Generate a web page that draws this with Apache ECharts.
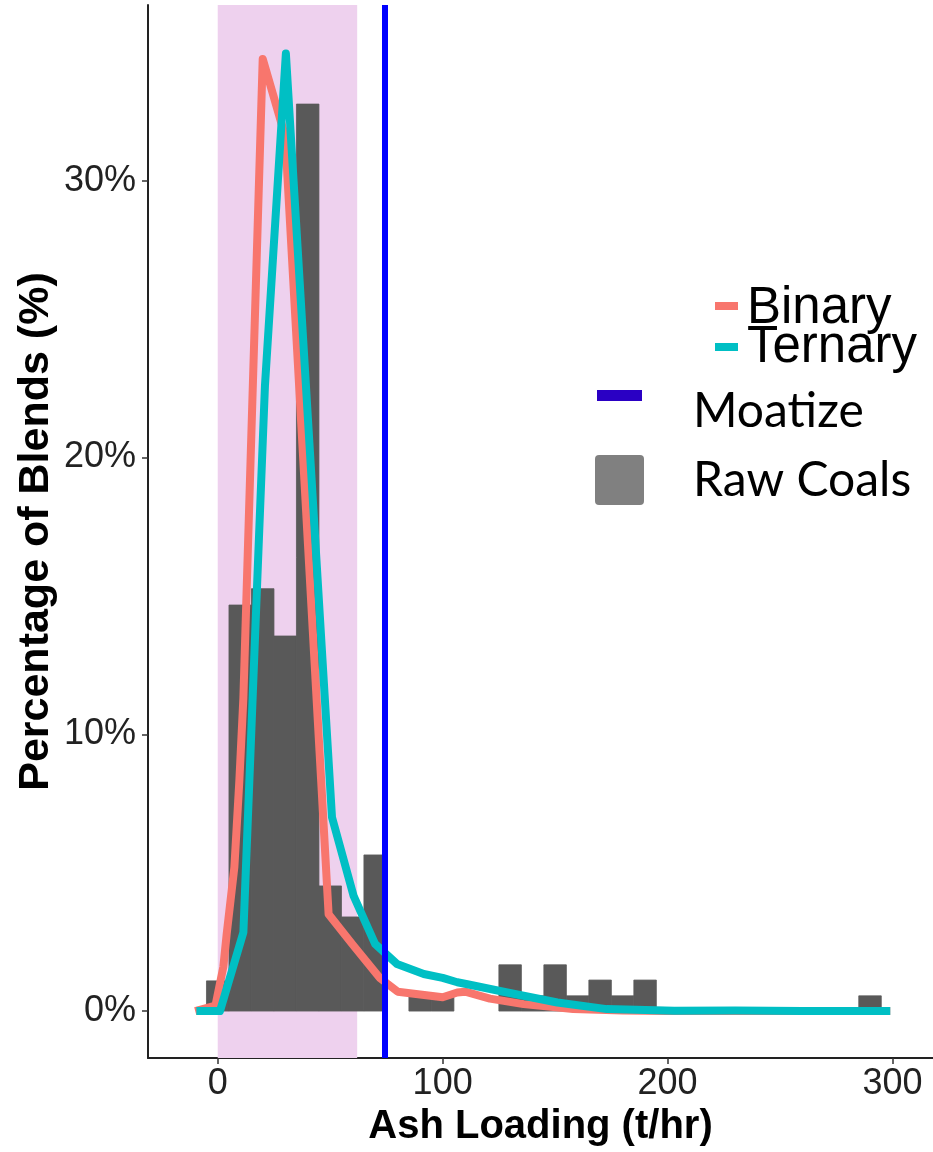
<!DOCTYPE html>
<html>
<head>
<meta charset="utf-8">
<script src="https://cdn.jsdelivr.net/npm/echarts@6/dist/echarts.min.js"></script>
<style>
  html, body { margin: 0; padding: 0; background: #fff; }
  #chart { width: 933px; height: 1152px; }
</style>
</head>
<body>
<div id="chart"></div>
<script>
// histogram of raw coals (bin centres, width 10)
const binCenters = [0, 10, 20, 30, 40, 50, 60, 70, 90, 100, 130, 140, 150, 160, 170, 180, 190, 290];
const rawCoalPct = [1.09, 14.67, 15.26, 13.55, 32.77, 4.52, 3.40, 5.64, 0.55, 0.55, 1.67, 0.55, 1.67, 0.55, 1.12, 0.55, 1.12, 0.55];
const binWidth = 10;

// frequency polygons
const binaryX = [-10, -1, 2.5, 4, 7.4, 9.6, 11.4, 20, 30, 49.3, 60, 72, 80, 90, 100, 106.5, 110, 121, 136, 158, 180, 200, 230, 260, 299];
const binaryY = [0, 0.2, 1.6, 2.8, 5.2, 8.3, 11.3, 34.4, 31.6, 3.5, 2.4, 1.2, 0.7, 0.6, 0.5, 0.67, 0.7, 0.45, 0.25, 0.07, 0.02, 0, 0, 0, 0];
const ternaryX = [-9.5, 1, 11.4, 21, 30.3, 50.8, 60.4, 70, 79.7, 91.6, 100, 106.5, 111, 128.7, 151, 173, 203, 230, 260, 299];
const ternaryY = [0, 0, 2.84, 22.6, 34.6, 7.0, 4.16, 2.42, 1.70, 1.34, 1.2, 1.04, 0.97, 0.67, 0.31, 0.07, 0.01, 0.02, 0, 0];

const moatizeX = 74.4;
const shadeRange = [0, 62];
const xTicks = [0, 100, 200, 300];
const yTicks = [0, 10, 20, 30];

const chart = echarts.init(document.getElementById("chart"));

function pairs(xs, ys) {
  return xs.map((x, i) => [x, ys[i]]);
}

const barData = binCenters.map((c, i) => [c - binWidth / 2, c + binWidth / 2, rawCoalPct[i]]);

const option = {
  animation: false,
  backgroundColor: "#fff",
  grid: { left: 148, right: 0, top: 5, bottom: 93 },
  xAxis: {
    type: "value",
    min: -31,
    max: 318,
    name: "Ash Loading (t/hr)",
    nameLocation: "middle",
    nameGap: 46,
    nameTextStyle: { fontFamily: "Liberation Sans, Arial", fontWeight: "bold", fontSize: 40, color: "#000" },
    axisLine: { show: true, onZero: false, lineStyle: { color: "#222", width: 2 } },
    axisTick: { show: true, length: 6, customValues: xTicks, lineStyle: { color: "#333", width: 1.5 } },
    axisLabel: {
      customValues: xTicks,
      fontFamily: "Liberation Sans, Arial",
      fontSize: 36,
      color: "#222",
      margin: 8,
    },
    splitLine: { show: false },
  },
  yAxis: {
    type: "value",
    min: -1.7,
    max: 36.35,
    name: "Percentage of Blends (%)",
    nameLocation: "middle",
    nameGap: 90,
    nameMoveOverlap: false,
    nameTextStyle: { fontFamily: "Liberation Sans, Arial", fontWeight: "bold", fontSize: 43, color: "#000" },
    axisLine: { show: true, onZero: false, lineStyle: { color: "#222", width: 2 } },
    axisTick: { show: true, length: 6, customValues: yTicks, lineStyle: { color: "#333", width: 1.5 } },
    axisLabel: {
      customValues: yTicks,
      formatter: (v) => v + "%",
      fontFamily: "Liberation Sans, Arial",
      fontSize: 36,
      color: "#222",
      margin: 12,
    },
    splitLine: { show: false },
  },
  series: [
    {
      // shaded window
      type: "line",
      data: [],
      z: 1,
      markArea: {
        silent: true,
        itemStyle: { color: "#EED1EE" },
        data: [[{ xAxis: shadeRange[0] }, { xAxis: shadeRange[1] }]],
      },
    },
    {
      name: "Raw Coals",
      type: "custom",
      z: 2,
      encode: { x: [0, 1], y: 2 },
      data: barData,
      renderItem: function (params, api) {
        const p0 = api.coord([api.value(0), api.value(2)]);
        const p1 = api.coord([api.value(1), 0]);
        return {
          type: "rect",
          shape: { x: p0[0], y: p0[1], width: p1[0] - p0[0], height: p1[1] - p0[1] },
          style: { fill: "#595959", stroke: "#595959", lineWidth: 0.8 },
        };
      },
    },
    {
      name: "Binary",
      type: "line",
      z: 3,
      data: pairs(binaryX, binaryY),
      showSymbol: false,
      lineStyle: { color: "#F8766D", width: 8, cap: "butt", join: "round" },
    },
    {
      name: "Ternary",
      type: "line",
      z: 4,
      data: pairs(ternaryX, ternaryY),
      showSymbol: false,
      lineStyle: { color: "#00BFC4", width: 8, cap: "butt", join: "round" },
    },
    {
      name: "Moatize",
      type: "line",
      data: [],
      z: 5,
      markLine: {
        silent: true,
        symbol: "none",
        label: { show: false },
        lineStyle: { color: "#0000FF", width: 6, type: "solid" },
        data: [{ xAxis: moatizeX }],
      },
    },
  ],
  // legend pasted on the right
  graphic: [
    { type: "rect", left: 715, top: 302, shape: { width: 23, height: 8 }, style: { fill: "#F8766D" } },
    { type: "text", left: 747, top: 283, style: { text: "Binary", font: "51px 'Liberation Sans', Arial", fill: "#000" } },
    { type: "rect", left: 715, top: 343, shape: { width: 23, height: 8 }, style: { fill: "#00BFC4" } },
    { type: "text", left: 747, top: 322, style: { text: "Ternary", font: "51px 'Liberation Sans', Arial", fill: "#000" } },
    { type: "rect", left: 597, top: 390, shape: { width: 45, height: 11 }, style: { fill: "#2A00C4" } },
    { type: "text", left: 693, top: 388, style: { text: "Moatize", font: "48px Lato", fill: "#000" } },
    { type: "rect", left: 595, top: 455, shape: { width: 49, height: 50, r: 4 }, style: { fill: "#808080" } },
    { type: "text", left: 693, top: 457, style: { text: "Raw Coals", font: "48px Lato", fill: "#000" } },
  ],
};

chart.setOption(option);
</script>
</body>
</html>
